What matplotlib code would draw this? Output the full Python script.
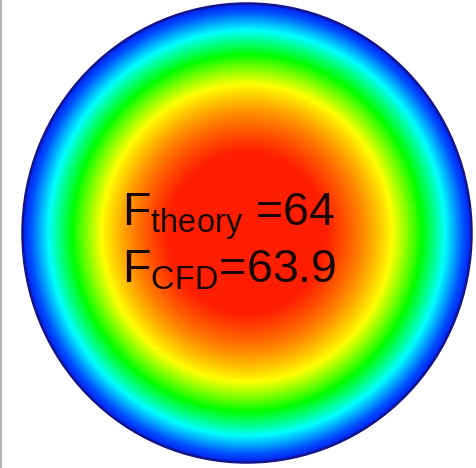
import numpy as np
import matplotlib
matplotlib.use("Agg")
import matplotlib.pyplot as plt
from matplotlib.colors import LinearSegmentedColormap, Normalize
from matplotlib.patches import Ellipse
from matplotlib.lines import Line2D

plt.rcParams["font.family"] = ["Liberation Sans", "DejaVu Sans"]
plt.rcParams["mathtext.fontset"] = "custom"
plt.rcParams["mathtext.rm"] = "Liberation Sans"
plt.rcParams["mathtext.it"] = "Liberation Sans"

# Friction-factor constants (f * Re) for laminar pipe flow
f_labels = ["theory", "CFD"]
f_values = [64, 63.9]

# Laminar (Hagen-Poiseuille) axial velocity over the pipe cross-section
u_mean = 1.0
u_max = 2.0 * u_mean
contour_range = (0.0, 1.76)

# Contour colour scale: blue -> cyan -> green -> yellow -> orange -> red
cmap = LinearSegmentedColormap.from_list(
    "rainbow6",
    [(0.0, "#0020f0"), (0.08, "#0050ff"), (0.25, "#00ffff"),
     (0.45, "#00ff00"), (0.66, "#ffff00"), (0.83, "#ff8c00"),
     (1.0, "#ff1e00")],
)

W, H = 477, 468
fig = plt.figure(figsize=(W / 100, H / 100), dpi=100)
ax = fig.add_axes([0, 0, 1, 1])
ax.set_xlim(0, W)
ax.set_ylim(H, 0)
ax.axis("off")

cx, cy, rx, ry = 247, 233, 225, 230
n = 700
xs = np.linspace(-1, 1, n)
X, Y = np.meshgrid(xs, xs)
r2 = X ** 2 + Y ** 2
u = u_max * (1.0 - r2)
u = np.where(r2 <= 1.0, u, 0.0)

im = ax.imshow(u, cmap=cmap, norm=Normalize(*contour_range),
               extent=[cx - rx, cx + rx, cy + ry, cy - ry],
               interpolation="bilinear", origin="upper")
wall = Ellipse((cx, cy), 2 * rx, 2 * ry, transform=ax.transData,
               facecolor="none", edgecolor="none")
ax.add_patch(wall)
im.set_clip_path(wall)
ax.add_patch(Ellipse((cx, cy), 2 * rx - 1, 2 * ry - 1, facecolor="none",
                     edgecolor="#14148c", lw=1.8))

# Annotation
lines = [
    r"$\mathrm{F}_{\mathrm{%s}}$ =%g" % (f_labels[0], f_values[0]),
    r"$\mathrm{F}_{\mathrm{%s}}$=%g" % (f_labels[1], f_values[1]),
]
for txt, yb in zip(lines, [225, 282]):
    ax.text(122, yb, txt, fontsize=33.5, color="#1a0600",
            ha="left", va="baseline")

# Thin frame line at the left edge
fig.add_artist(Line2D([0.5 / W, 0.5 / W], [0, 1], transform=fig.transFigure,
                      color="#b4b4b4", lw=1.5))

fig.savefig("out.png", dpi=100, facecolor="white")
